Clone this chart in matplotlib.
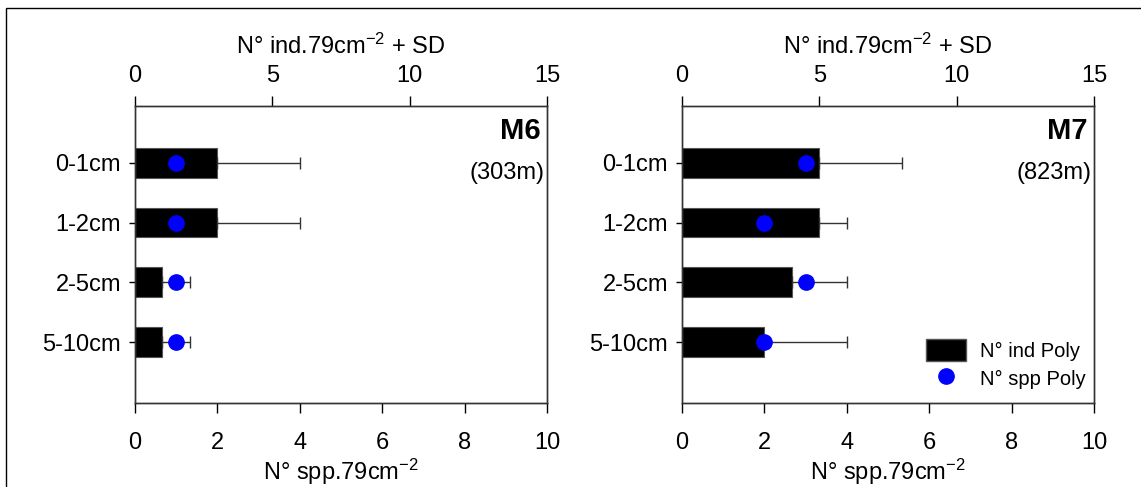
import matplotlib.pyplot as plt
from matplotlib.patches import Rectangle
from matplotlib.lines import Line2D
import numpy as np

plt.rcParams['font.family'] = ['Liberation Sans', 'DejaVu Sans']
plt.rcParams['mathtext.default'] = 'regular'

depths = ['0-1cm', '1-2cm', '2-5cm', '5-10cm']

# M6 (303m)
m6_ind = [3, 3, 1, 1]
m6_ind_sd = [3, 3, 1, 1]
m6_spp = [1, 1, 1, 1]

# M7 (823m)
m7_ind = [5, 5, 4, 3]
m7_ind_sd = [3, 1, 2, 3]
m7_spp = [3, 2, 3, 2]

stations = [('M6', '(303m)', m6_ind, m6_ind_sd, m6_spp),
            ('M7', '(823m)', m7_ind, m7_ind_sd, m7_spp)]

W, H = 1141, 487
fig = plt.figure(figsize=(W / 100, H / 100), dpi=100)

# outer frame (only top/left edges visible in the original)
fig.add_artist(Rectangle((6 / W, -0.2), 1.5, 1.2 - 8 / H, transform=fig.transFigure,
                         fill=False, edgecolor='black', linewidth=1.0))

lefts = [135, 682]
fs = 17

for k, (name, depth_m, ind, sd, spp) in enumerate(stations):
    ax = fig.add_axes([lefts[k] / W, 1 - 403 / H, 412 / W, 297 / H])
    top = ax.twiny()
    y = np.arange(len(depths))

    # bars on top axis (N° ind), error bars only on the + side
    top.barh(y, ind, height=0.5, color='black', edgecolor='#555555', linewidth=0.8,
             xerr=[np.zeros(len(sd)), sd], error_kw=dict(ecolor='#333333', elinewidth=1.0,
                                                         capsize=4, capthick=1.0))
    top.set_xlim(0, 15)
    top.set_xticks([0, 5, 10, 15])
    top.set_xlabel('N° ind.79cm$^{-2}$ + SD', fontsize=fs, labelpad=8)

    # dots on bottom axis (N° spp)
    ax.plot(spp, y, 'o', color='#0000ff', markersize=11, zorder=5, clip_on=False)
    ax.set_zorder(top.get_zorder() + 1)
    ax.patch.set_visible(False)
    ax.set_xlim(0, 10)
    ax.set_xticks([0, 2, 4, 6, 8, 10])
    ax.set_xlabel('N° spp.79cm$^{-2}$', fontsize=fs, labelpad=2)

    ax.set_ylim(4.02, -0.95)
    ax.set_yticks(y)
    ax.set_yticklabels(depths)
    top.set_ylim(4.02, -0.95)

    for a in (ax, top):
        a.tick_params(axis='both', labelsize=fs, length=7, width=1.0, direction='out')
        for s in a.spines.values():
            s.set_linewidth(1.0)
            s.set_color('#333333')
    ax.tick_params(axis='x', pad=14)
    top.tick_params(axis='x', pad=7)
    ax.tick_params(axis='y', length=4, pad=6)

    ax.text(0.985, 0.915, name, transform=ax.transAxes, ha='right', va='center',
            fontsize=21, fontweight='bold')
    ax.text(0.995, 0.775, depth_m, transform=ax.transAxes, ha='right', va='center',
            fontsize=fs)

    if name == 'M7':
        handles = [Rectangle((0, 0), 1, 1, facecolor='black', edgecolor='#555555'),
                   Line2D([], [], marker='o', color='#0000ff', linestyle='none', markersize=11)]
        ax.legend(handles, ['N° ind Poly', 'N° spp Poly'], loc='lower right',
                  bbox_to_anchor=(1.025, -0.015), frameon=False, fontsize=14.5,
                  handlelength=2.0, handleheight=1.3, handletextpad=0.7, labelspacing=0.3)

fig.savefig('out.png', dpi=100)
